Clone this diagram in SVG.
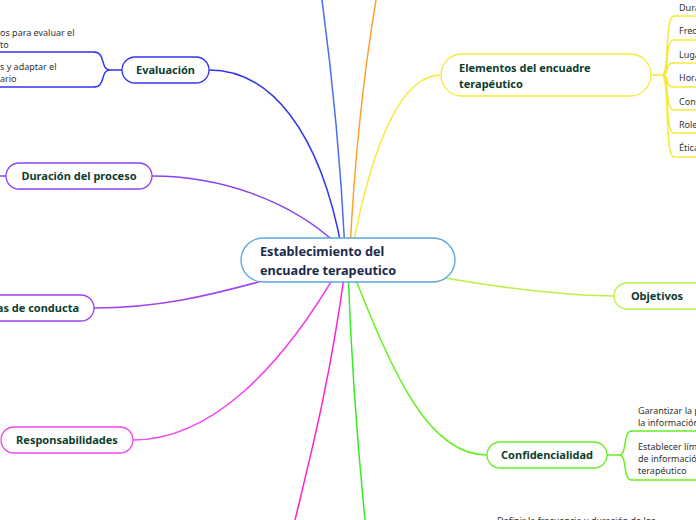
<svg xmlns="http://www.w3.org/2000/svg" width="696" height="520" viewBox="0 0 696 520">
<style>
.n{fill:#fff;stroke-width:1.3}
.t{font-family:"Noto Sans","Open Sans",sans-serif;font-size:11px;font-weight:bold;fill:#0d3d2d}
.c{font-family:"Noto Sans","Open Sans",sans-serif;font-size:12.7px;font-weight:bold;fill:#1c2b4b}
.s{font-family:"Noto Sans","Open Sans",sans-serif;font-size:9px;fill:#333}
.l{fill:none;stroke-width:1.5}
</style>
<rect width="696" height="520" fill="#fff"/>
<g id="connectors">
<path class="l" stroke="#4a6cf7" d="M345,250 C340,150 330,60 322,0"/>
<path class="l" stroke="#ffa030" d="M350,250 C355,150 366,60 376,0"/>
<path class="l" stroke="#f5ea3a" d="M352,250 C375,130 405,75 441,75"/>
<path class="l" stroke="#3333ee" d="M342,250 C320,130 270,70 209,70"/>
<path class="l" stroke="#8844ee" d="M338,245 C290,200 220,176 152,176"/>
<path class="l" stroke="#8844ee" d="M0,176 L6,176"/>
<path class="l" stroke="#a040f0" d="M300,270 C200,300 150,308 94,308"/>
<path class="l" stroke="#ee44ee" d="M338,270 C280,370 210,440 133,440"/>
<path class="l" stroke="#ff22cc" d="M345,270 C330,380 312,450 295,520" stroke-width="2"/>
<path class="l" stroke="#33ee22" d="M348,270 C352,380 358,450 365,520" stroke-width="2"/>
<path class="l" stroke="#66f022" d="M352,270 C395,380 430,455 487,455"/>
<path class="l" stroke="#bbf044" d="M400,270 C480,285 560,296 614,296"/>
<path class="l" stroke="#3333ee" stroke-width="1" d="M122,70 L110,70 C100,70 106,52 94,52 M110,70 C100,70 106,87 94,87"/>
<path class="l" stroke="#3333ee" stroke-width="2" d="M95,52 L0,52 M95,87 L0,87"/>
<path class="l" stroke="#f5ea3a" stroke-width="1" d="M651,75 L662,75 M662,75 C670,75 664,16 674,16 M662,75 C670,75 664,40 674,40 M662,75 C670,75 664,63 674,63 M662,75 C670,75 664,87 674,87 M662,75 C670,75 664,110 674,110 M662,75 C670,75 664,133 674,133 M662,75 C670,75 664,157 674,157"/>
<path class="l" stroke="#f5ea3a" d="M673,16 L696,16 M673,40 L696,40 M673,63 L696,63 M673,87 L696,87 M673,110 L696,110 M673,133 L696,133 M673,157 L696,157"/>
<path class="l" stroke="#66f022" stroke-width="1" d="M607,455 L619,455 C628,455 622,431 632,431 M619,455 C628,455 622,480 632,480"/>
<path class="l" stroke="#66f022" stroke-width="1.8" d="M631,431 L696,431 M631,480 L696,480"/>
</g>
<g id="center">
<rect class="n" x="241" y="238" width="214" height="44" rx="22" stroke="#5aa5dd"/>
<text class="c" x="260" y="256">Establecimiento del</text>
<text class="c" x="260" y="275">encuadre terapeutico</text>
</g>
<g id="evaluacion">
<rect class="n" x="122" y="57" width="87" height="26" rx="13" stroke="#3333ee"/>
<text class="t" x="165.5" y="74" text-anchor="middle">Evaluación</text>
</g>
<g id="eval-child-1">
<text class="s" x="0" y="36">os para evaluar el</text>
<text class="s" x="0" y="48">to</text>
</g>
<g id="eval-child-2">
<text class="s" x="0" y="70">s y adaptar el</text>
<text class="s" x="0" y="82">ario</text>
</g>
<g id="duracion">
<rect class="n" x="6" y="163" width="146" height="26" rx="13" stroke="#8844ee"/>
<text class="t" x="79" y="180" text-anchor="middle">Duración del proceso</text>
</g>
<g id="conducta">
<rect class="n" x="-40" y="295" width="134" height="26" rx="13" stroke="#a040f0"/>
<text class="t" x="79" y="312" text-anchor="end">as de conducta</text>
</g>
<g id="responsabilidades">
<rect class="n" x="1" y="427" width="132" height="26" rx="13" stroke="#ee44ee"/>
<text class="t" x="67" y="444" text-anchor="middle">Responsabilidades</text>
</g>
<g id="elementos">
<rect class="n" x="441" y="54" width="210" height="42" rx="21" stroke="#f5ea3a"/>
<text class="t" x="459" y="72">Elementos del encuadre</text>
<text class="t" x="459" y="88">terapéutico</text>
</g>
<g id="elem-children">
<text class="s" x="679" y="11">Duración</text>
<text class="s" x="679" y="34">Frecuencia</text>
<text class="s" x="679" y="58">Lugar</text>
<text class="s" x="679" y="81">Horario</text>
<text class="s" x="679" y="105">Confidencialidad</text>
<text class="s" x="679" y="128">Roles</text>
<text class="s" x="679" y="151">Ética</text>
</g>
<g id="objetivos">
<rect class="n" x="614" y="283" width="100" height="26" rx="13" stroke="#bbf044"/>
<text class="t" x="657" y="300" text-anchor="middle">Objetivos</text>
</g>
<g id="confidencialidad">
<rect class="n" x="487" y="442" width="120" height="26" rx="13" stroke="#66f022"/>
<text class="t" x="547" y="459" text-anchor="middle">Confidencialidad</text>
</g>
<g id="conf-children">
<text class="s" x="638" y="414">Garantizar la privacidad de</text>
<text class="s" x="638" y="426">la información</text>
<text class="s" x="638" y="450">Establecer límites</text>
<text class="s" x="638" y="462">de información</text>
<text class="s" x="638" y="474">terapéutico</text>
</g>
<g id="bottom-child">
<text class="s" x="497" y="524">Definir la frecuencia y duración de los</text>
</g>
</svg>
